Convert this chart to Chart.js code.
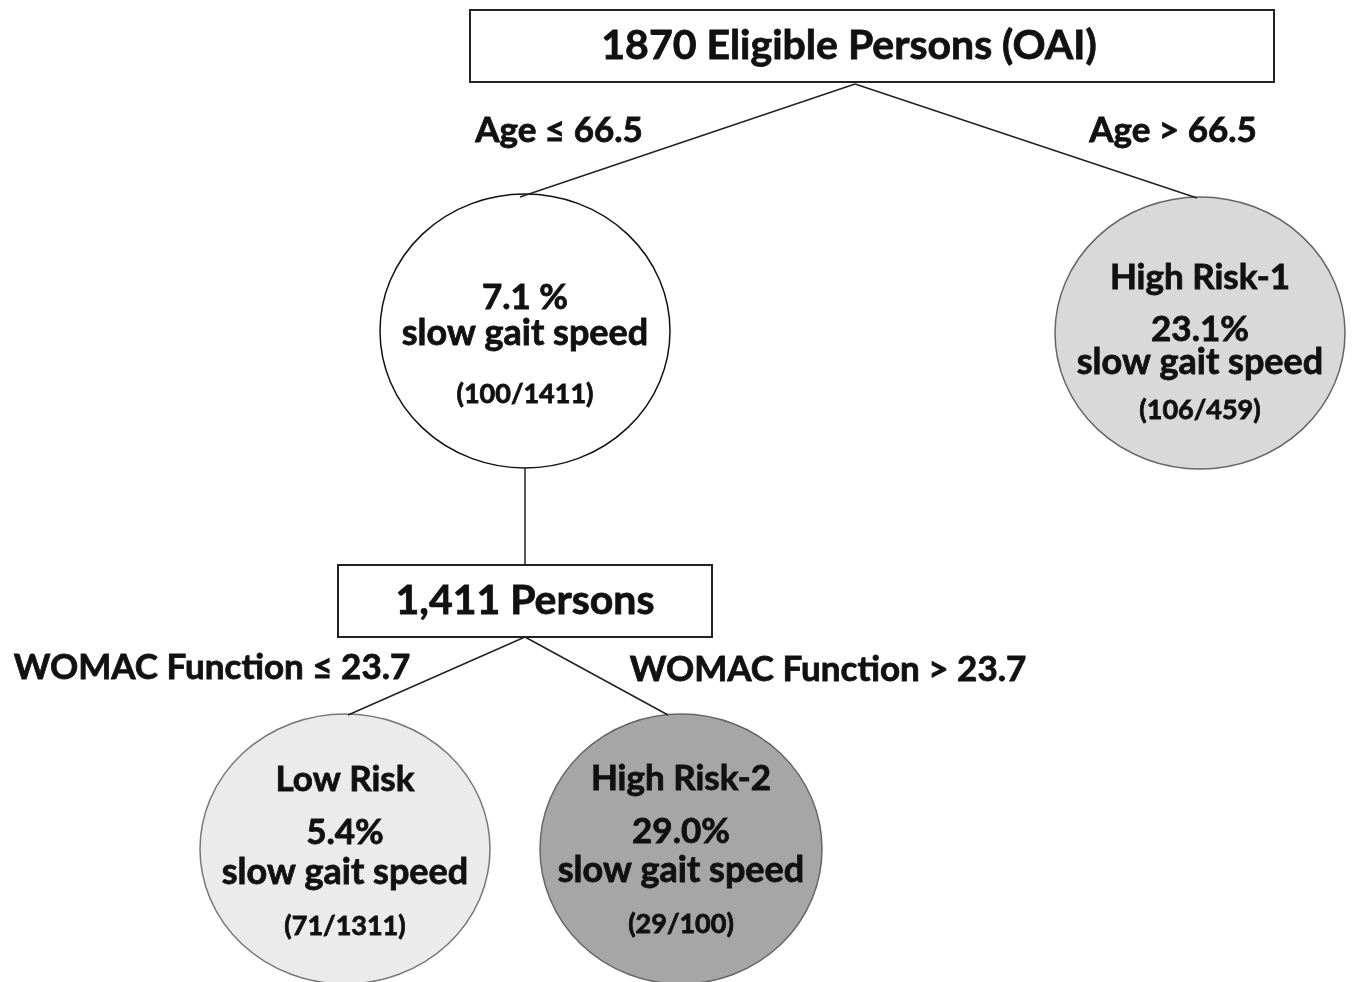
<!DOCTYPE html>
<html lang="en">
<head>
    <meta charset="UTF-8">
    <title>Slow gait speed tree</title>
    <script src="https://cdn.jsdelivr.net/npm/chart.js"></script>
    <style>
        body {
            margin: 0;
            background: #fff;
        }
        #wrap {
            width: 1352px;
            height: 982px;
        }
    </style>
</head>
<body>
    <div id="wrap"><canvas id="tree" width="1352" height="982"></canvas></div>

    <script>
        // values
        const rootLabel = '1870 Eligible Persons (OAI)';
        const subLabel = '1,411 Persons';
        const splitLabels = ['Age ≤ 66.5', 'Age > 66.5', 'WOMAC Function ≤ 23.7', 'WOMAC Function > 23.7'];
        const leafNames = ['', 'High Risk-1', 'Low Risk', 'High Risk-2'];
        const slowPct = ['7.1 %', '23.1%', '5.4%', '29.0%'];
        const slowCounts = ['(100/1411)', '(106/459)', '(71/1311)', '(29/100)'];

        // layout (pixel-like units on hidden axes)
        const boxes = [
            { cx: 872, cy: 46, w: 804, h: 72, tx: 849, text: rootLabel },
            { cx: 525, cy: 601, w: 374, h: 72, tx: 525, text: subLabel }
        ];
        const circles = [
            { cx: 525, cy: 331, rx: 145, ry: 137, fill: '#ffffff', stroke: '#111' },
            { cx: 1200, cy: 333, rx: 145, ry: 136, fill: '#d9d9d9', stroke: '#666' },
            { cx: 345, cy: 849, rx: 145, ry: 135, fill: '#ebebeb', stroke: '#777' },
            { cx: 681, cy: 849, rx: 141, ry: 135, fill: '#a6a6a6', stroke: '#666' }
        ];
        const edges = [
            [{ x: 855, y: 84 }, { x: 520, y: 197 }],
            [{ x: 855, y: 84 }, { x: 1197, y: 198 }],
            [{ x: 525, y: 468 }, { x: 525, y: 565 }],
            [{ x: 525, y: 637 }, { x: 348, y: 715 }],
            [{ x: 525, y: 637 }, { x: 668, y: 715 }]
        ];
        const splitPos = [[559, 131], [1173, 131], [212, 668], [828, 670]];
        // text rows inside each circle: name, pct, slow gait speed, counts
        const circleTextY = [
            [null, 298, 333, 394],
            [278, 330, 362, 410],
            [780, 833, 872, 926],
            [779, 832, 870, 924]
        ];

        const FONT = 'Lato, "Open Sans", sans-serif';

        const shapesPlugin = {
            id: 'shapes',
            beforeDatasetsDraw(chart) {
                const ctx = chart.ctx;
                const xs = chart.scales.x, ys = chart.scales.y;
                ctx.save();
                circles.forEach(c => {
                    const px = xs.getPixelForValue(c.cx), py = ys.getPixelForValue(c.cy);
                    const rx = Math.abs(xs.getPixelForValue(c.cx + c.rx) - px);
                    const ry = Math.abs(ys.getPixelForValue(c.cy + c.ry) - py);
                    ctx.beginPath();
                    ctx.ellipse(px, py, rx, ry, 0, 0, Math.PI * 2);
                    ctx.fillStyle = c.fill;
                    ctx.fill();
                    ctx.lineWidth = 1.5;
                    ctx.strokeStyle = c.stroke;
                    ctx.stroke();
                });
                boxes.forEach(b => {
                    const x0 = xs.getPixelForValue(b.cx - b.w / 2), x1 = xs.getPixelForValue(b.cx + b.w / 2);
                    const y0 = ys.getPixelForValue(b.cy - b.h / 2), y1 = ys.getPixelForValue(b.cy + b.h / 2);
                    ctx.fillStyle = '#fff';
                    ctx.fillRect(x0, y0, x1 - x0, y1 - y0);
                    ctx.lineWidth = 2;
                    ctx.strokeStyle = '#222';
                    ctx.strokeRect(x0, y0, x1 - x0, y1 - y0);
                });
                ctx.restore();
            },
            afterDatasetsDraw(chart) {
                const ctx = chart.ctx;
                const xs = chart.scales.x, ys = chart.scales.y;
                const put = (t, x, y, size) => {
                    const px = xs.getPixelForValue(x), py = ys.getPixelForValue(y);
                    ctx.font = 'bold ' + size + 'px ' + FONT;
                    ctx.fillText(t, px, py);
                    ctx.strokeText(t, px, py);
                };
                ctx.save();
                ctx.fillStyle = '#111';
                ctx.strokeStyle = '#111';
                ctx.lineWidth = 0.8;
                ctx.textAlign = 'center';
                ctx.textBaseline = 'middle';
                boxes.forEach(b => put(b.text, b.tx, b.cy, 41));
                splitLabels.forEach((t, i) => put(t, splitPos[i][0], splitPos[i][1], 35));
                circles.forEach((c, i) => {
                    const ty = circleTextY[i];
                    if (leafNames[i]) put(leafNames[i], c.cx, ty[0], 35);
                    put(slowPct[i], c.cx, ty[1], 35);
                    put('slow gait speed', c.cx, ty[2], 36);
                    put(slowCounts[i], c.cx, ty[3], 27);
                });
                ctx.restore();
            }
        };

        const ctx = document.getElementById('tree').getContext('2d');
        new Chart(ctx, {
            type: 'scatter',
            data: {
                datasets: edges.map(e => ({
                    data: e,
                    showLine: true,
                    borderColor: '#222',
                    borderWidth: 1.5,
                    pointRadius: 0
                }))
            },
            options: {
                responsive: false,
                animation: false,
                layout: { padding: 0 },
                plugins: {
                    legend: { display: false },
                    tooltip: { enabled: false }
                },
                scales: {
                    x: { type: 'linear', min: 0, max: 1352, display: false },
                    y: { type: 'linear', min: 0, max: 982, reverse: true, display: false }
                }
            },
            plugins: [shapesPlugin]
        });
    </script>
</body>
</html>
